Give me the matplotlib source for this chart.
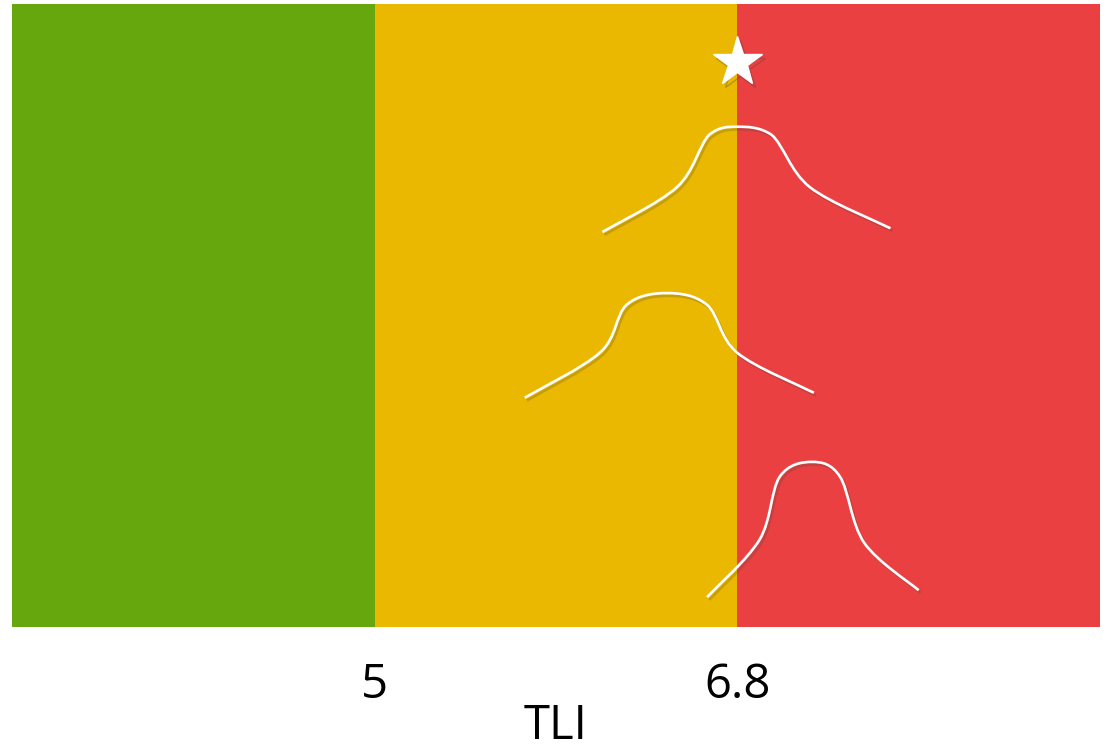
import matplotlib
matplotlib.use("Agg")
import matplotlib.pyplot as plt
import matplotlib.patheffects as pe
from matplotlib.path import Path
from matplotlib.patches import PathPatch
import numpy as np

# ---- data ----
band_edges = [3.2, 5.0, 6.8, 8.6]
band_colors = ["#65A70D", "#EAB800", "#EA4041"]
tick_values = [5.0, 6.8]
tick_labels = ["5", "6.8"]
x_label = "TLI"

curve_top_x = [6.13, 6.50, 6.66, 6.80, 6.97, 7.16, 7.56]
curve_top_y = [0.634, 0.706, 0.790, 0.803, 0.790, 0.706, 0.640]
curve_mid_x = [5.745, 6.12, 6.25, 6.45, 6.65, 6.80, 7.18]
curve_mid_y = [0.368, 0.441, 0.517, 0.536, 0.517, 0.440, 0.376]
curve_bot_x = [6.65, 6.91, 7.01, 7.17, 7.31, 7.43, 7.70]
curve_bot_y = [0.048, 0.140, 0.241, 0.265, 0.241, 0.135, 0.059]

star_x = [6.8]
star_y = [0.907]

plt.rcParams['font.family'] = ['Open Sans', 'DejaVu Sans']

fig = plt.figure(figsize=(11.07, 7.48), dpi=100)
ax = fig.add_axes([12/1107, 1-627/748, 1088/1107, 623/748])
ax.set_xlim(band_edges[0], band_edges[-1])
ax.set_ylim(0, 1)

shadow = [pe.SimplePatchShadow(offset=(2, -3), alpha=0.25, shadow_rgbFace='#888888'), pe.Normal()]
for i, c in enumerate(band_colors):
    sp = ax.axvspan(band_edges[i], band_edges[i+1], color=c, lw=0, zorder=1+i*0.01)
    sp.set_path_effects(shadow)


def smooth_path(xs, ys):
    P = np.column_stack([xs, ys]).astype(float)
    n = len(P)
    verts = [P[0]]
    codes = [Path.MOVETO]
    for i in range(n - 1):
        p0 = P[i - 1] if i > 0 else P[i]
        p1 = P[i]
        p2 = P[i + 1]
        p3 = P[i + 2] if i + 2 < n else P[i + 1]
        c1 = p1 + (p2 - p0) / 6.0
        c2 = p2 - (p3 - p1) / 6.0
        lo, hi = min(p1[1], p2[1]), max(p1[1], p2[1])
        c1[1] = np.clip(c1[1], lo, hi)
        c2[1] = np.clip(c2[1], lo, hi)
        verts += [c1, c2, p2]
        codes += [Path.CURVE4] * 3
    return Path(verts, codes)


for xs, ys in [(curve_top_x, curve_top_y), (curve_mid_x, curve_mid_y), (curve_bot_x, curve_bot_y)]:
    patch = PathPatch(smooth_path(xs, ys), facecolor='none', edgecolor='white', lw=1.9,
                      capstyle='butt', zorder=5)
    patch.set_path_effects([pe.SimpleLineShadow(offset=(1.5, -2), alpha=0.22, shadow_color='#444444'),
                            pe.Normal()])
    ax.add_patch(patch)

ax.plot(star_x, star_y, marker='*', ms=37, color='white', mec='white', lw=0, zorder=6,
        path_effects=[pe.SimpleLineShadow(offset=(2, -3), alpha=0.3, shadow_color='#444444'), pe.Normal()])

for s in ax.spines.values():
    s.set_visible(False)
ax.set_yticks([])
ax.set_xticks(tick_values)
ax.set_xticklabels(tick_labels, fontsize=34)
ax.tick_params(axis='x', length=0, pad=25)
ax.set_xlabel(x_label, fontsize=34, labelpad=-5)

fig.savefig("out.png", dpi=100)
